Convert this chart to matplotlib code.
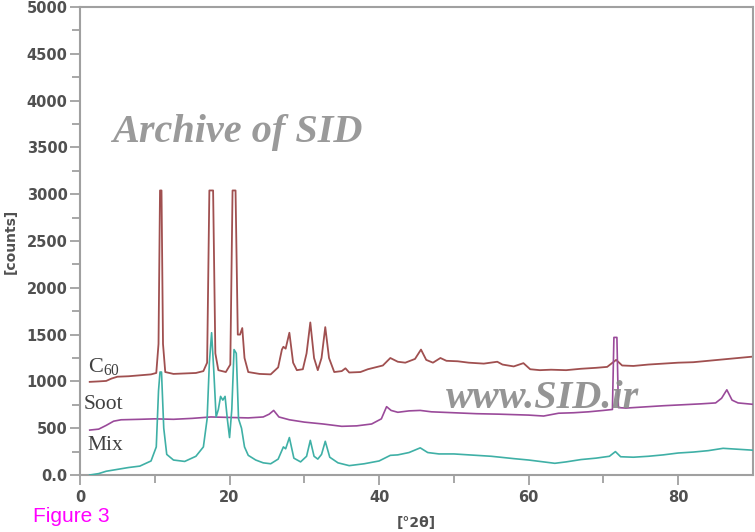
import numpy as np
import matplotlib
matplotlib.use("Agg")
import matplotlib.pyplot as plt
from matplotlib.ticker import MultipleLocator, FixedLocator

# XRD patterns: 2theta (deg) and counts
c60_x = [1.3, 2.5, 3.5, 4.2, 5.0, 6.5, 8.0, 9.5, 10.2, 10.5, 10.7, 10.9, 11.1, 11.4,
         12.5, 14.0, 15.5, 16.5, 17.0, 17.3, 17.8, 18.1, 18.5, 19.5, 20.1, 20.4, 20.8,
         21.1, 21.4, 21.7, 22.0, 22.5, 24.0, 25.5, 26.5, 27.0, 27.2, 27.5, 28.0, 28.5,
         29.0, 29.8, 30.3, 30.8, 31.3, 31.8, 32.3, 32.8, 33.3, 34.0, 35.0, 35.5, 36.0,
         37.5, 38.5, 39.5, 40.5, 41.5, 42.5, 43.5, 44.8, 45.6, 46.3, 47.2, 48.2, 49.0,
         50.5, 52.0, 54.0, 55.8, 56.5, 58.0, 59.3, 60.2, 61.5, 63.0, 65.0, 67.0, 69.0,
         70.5, 71.7, 72.5, 74.0, 76.0, 78.0, 80.0, 82.0, 84.0, 86.0, 88.0, 90.0]
c60_y = [995, 1000, 1005, 1030, 1050, 1055, 1065, 1075, 1090, 1400, 3040, 3040, 1400, 1100,
         1080, 1085, 1090, 1110, 1200, 3040, 3040, 1300, 1120, 1100, 1180, 3040, 3040,
         1500, 1500, 1570, 1250, 1100, 1080, 1075, 1150, 1340, 1370, 1350, 1520, 1200,
         1120, 1130, 1300, 1630, 1250, 1120, 1250, 1580, 1250, 1100, 1110, 1140, 1095,
         1100, 1130, 1150, 1170, 1250, 1210, 1200, 1240, 1340, 1230, 1200, 1250, 1220,
         1215, 1200, 1190, 1210, 1180, 1160, 1195, 1130, 1120, 1125, 1120, 1135, 1145,
         1155, 1230, 1170, 1165, 1180, 1190, 1200, 1205, 1220, 1235, 1250, 1265]

soot_x = [1.3, 2.5, 3.5, 4.5, 5.5, 8.0, 10.0, 12.5, 15.0, 17.5, 20.0, 22.5, 24.5, 25.3,
          25.9, 26.6, 28.0, 30.0, 32.5, 35.0, 37.0, 39.0, 40.3, 41.0, 41.6, 42.5, 44.0,
          45.5, 47.0, 50.0, 53.0, 56.0, 58.0, 60.0, 62.0, 64.0, 66.0, 68.0, 70.0, 71.2,
          71.4, 71.8, 72.0, 73.0, 75.0, 78.0, 80.0, 83.0, 85.0, 85.8, 86.5, 87.2, 88.0, 90.0]
soot_y = [480, 490, 530, 575, 590, 595, 600, 595, 605, 620, 615, 610, 620, 650,
          690, 620, 590, 565, 545, 520, 525, 545, 600, 730, 690, 670, 685,
          690, 675, 665, 655, 650, 645, 640, 630, 660, 665, 675, 690, 700,
          1470, 1470, 720, 715, 725, 740, 748, 760, 770, 820, 910, 800, 770, 755]

mix_x = [1.3, 2.5, 3.5, 5.0, 6.5, 8.0, 9.5, 10.2, 10.5, 10.7, 10.9, 11.2, 11.6, 12.5,
         14.0, 15.5, 16.5, 17.0, 17.3, 17.6, 17.9, 18.2, 18.5, 18.8, 19.1, 19.4, 19.7,
         20.0, 20.3, 20.6, 20.9, 21.2, 21.6, 22.0, 22.5, 23.5, 24.5, 25.5, 26.5, 27.2,
         27.5, 28.0, 28.6, 29.5, 30.3, 30.8, 31.3, 31.8, 32.3, 32.8, 33.4, 34.5, 36.0,
         38.0, 40.0, 41.5, 42.5, 44.0, 45.5, 46.5, 48.0, 50.0, 52.0, 55.0, 58.0, 60.0,
         62.0, 63.5, 65.0, 67.0, 69.0, 70.8, 71.6, 72.3, 74.0, 76.0, 78.0, 80.0, 82.0,
         84.0, 86.0, 88.0, 90.0]
mix_y = [0, 15, 40, 60, 80, 95, 150, 300, 900, 1100, 1100, 500, 220, 160,
         145, 200, 300, 600, 1200, 1520, 1100, 620, 700, 840, 800, 840, 600,
         400, 700, 1340, 1300, 600, 500, 300, 210, 160, 130, 120, 170, 300,
         280, 400, 180, 140, 200, 370, 200, 170, 220, 360, 190, 130, 100,
         120, 150, 210, 215, 240, 290, 240, 225, 225, 215, 200, 175, 160,
         140, 125, 140, 165, 180, 200, 250, 195, 190, 200, 215, 235, 245,
         260, 285, 275, 265]

fig = plt.figure(figsize=(7.55, 5.32), dpi=100)
ax = fig.add_axes([80 / 755, 57 / 532, 673 / 755, 468 / 532])

ax.plot(c60_x, c60_y, color="#a05050", lw=1.3, zorder=2)
ax.plot(soot_x, soot_y, color="#9a4a9a", lw=1.2, zorder=3)
ax.plot(mix_x, mix_y, color="#3fb0a6", lw=1.2, zorder=4)

ax.set_xlim(0, 90)
ax.set_ylim(0, 5000)
ax.xaxis.set_major_locator(FixedLocator([0, 20, 40, 60, 80]))
ax.xaxis.set_minor_locator(FixedLocator([10, 30, 50, 70]))
ax.yaxis.set_minor_locator(MultipleLocator(250))
ylabels = ["0.0"] + [str(v) for v in range(500, 5001, 500)]
ax.set_yticks(range(0, 5001, 500))
ax.set_yticklabels(ylabels)

for s in ax.spines.values():
    s.set_color("#a0a0a0")
    s.set_linewidth(1.5)
ax.tick_params(which="both", direction="out", color="#a0a0a0", width=1.3,
               labelcolor="#505050", labelsize=10.5)
ax.tick_params(which="major", length=7)
ax.tick_params(which="minor", length=6)
ax.tick_params(axis="y", pad=2)
for lab in ax.get_xticklabels() + ax.get_yticklabels():
    lab.set_fontweight("bold")

ax.set_ylabel("[counts]", fontsize=10, fontweight="bold", color="#505050", labelpad=6)
ax.set_xlabel("[°2θ]", fontsize=10, fontweight="bold", color="#505050", labelpad=8)

serif = "Liberation Serif"
ax.text(1.1, 1150, r"C$_{\mathregular{60}}$", family=serif, fontsize=16, color="#404040", va="center")
ax.text(0.5, 750, "Soot", family=serif, fontsize=15.5, color="#404040", va="center")
ax.text(1.0, 320, "Mix", family=serif, fontsize=15.5, color="#404040", va="center")

ax.text(4.3, 3660, "Archive of SID", family=serif, fontsize=29, fontweight="bold",
        fontstyle="italic", color="#9a9a9a", va="center", zorder=5)
ax.text(49.0, 820, "www.SID.ir", family=serif, fontsize=29, fontweight="bold",
        fontstyle="italic", color="#8a8a8a", alpha=0.9, va="center", zorder=5)

fig.text(33 / 755, 1 - 516 / 532, "Figure 3", family="Liberation Sans", fontsize=15,
         color="#ff00ff", va="center")

fig.savefig("out.png", dpi=100)
